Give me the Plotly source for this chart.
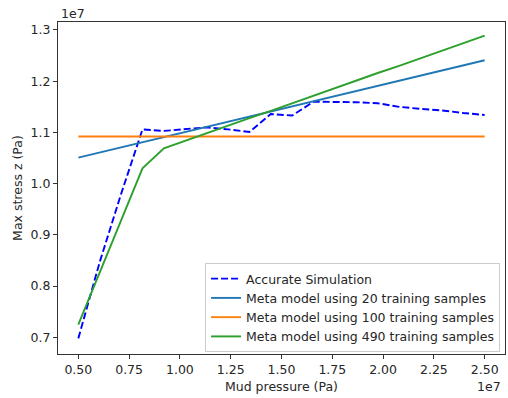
import plotly.graph_objects as go

# x grid: mud pressure (Pa), 20 samples from 5e6 to 2.5e7
mud_pressure = [5.000e6, 6.053e6, 7.105e6, 8.158e6, 9.211e6, 10.263e6, 11.316e6,
                12.368e6, 13.421e6, 14.474e6, 15.526e6, 16.579e6, 17.632e6,
                18.684e6, 19.737e6, 20.789e6, 21.842e6, 22.895e6, 23.947e6, 25.000e6]

accurate = [0.698e7, 0.847e7, 0.980e7, 1.106e7, 1.103e7, 1.107e7, 1.110e7,
            1.106e7, 1.101e7, 1.136e7, 1.133e7, 1.160e7, 1.160e7, 1.159e7,
            1.157e7, 1.150e7, 1.146e7, 1.143e7, 1.138e7, 1.134e7]

meta_20 = [1.051e7, 1.061e7, 1.071e7, 1.081e7, 1.091e7, 1.101e7, 1.111e7,
           1.121e7, 1.131e7, 1.141e7, 1.151e7, 1.161e7, 1.171e7, 1.181e7,
           1.191e7, 1.201e7, 1.211e7, 1.221e7, 1.231e7, 1.241e7]

meta_100 = [1.092e7] * 20

meta_490 = [0.725e7, 0.827e7, 0.929e7, 1.030e7, 1.069e7, 1.084e7, 1.099e7,
            1.113e7, 1.128e7, 1.142e7, 1.157e7, 1.172e7, 1.186e7, 1.201e7,
            1.216e7, 1.230e7, 1.245e7, 1.260e7, 1.274e7, 1.289e7]

labels = ["Accurate Simulation",
          "Meta model using 20 training samples",
          "Meta model using 100 training samples",
          "Meta model using 490 training samples"]

x_ticks = [0.50, 0.75, 1.00, 1.25, 1.50, 1.75, 2.00, 2.25, 2.50]
y_ticks = [0.7, 0.8, 0.9, 1.0, 1.1, 1.2, 1.3]

SCALE = 1e7
xs = [v / SCALE for v in mud_pressure]

FONT = "DejaVu Sans"
TXT = dict(family=FONT, size=12.5, color="#262626")
LW = 1.9
fig = go.Figure()
fig.add_trace(go.Scatter(x=xs, y=[v / SCALE for v in accurate], mode="lines",
                         name=labels[0], line=dict(color="#0000ff", width=LW, dash="7px,3px")))
fig.add_trace(go.Scatter(x=xs, y=[v / SCALE for v in meta_20], mode="lines",
                         name=labels[1], line=dict(color="#1f77b4", width=LW)))
fig.add_trace(go.Scatter(x=xs, y=[v / SCALE for v in meta_100], mode="lines",
                         name=labels[2], line=dict(color="#ff7f0e", width=LW)))
fig.add_trace(go.Scatter(x=xs, y=[v / SCALE for v in meta_490], mode="lines",
                         name=labels[3], line=dict(color="#2ca02c", width=LW)))

axis_common = dict(showgrid=False, zeroline=False, showline=True, mirror=True,
                   linecolor="#333333", linewidth=1.1, ticks="outside", ticklen=4,
                   tickcolor="#333333", tickfont=TXT, automargin=False)

fig.update_layout(
    width=508, height=398,
    margin=dict(l=58, r=3, t=22, b=44, autoexpand=False),
    plot_bgcolor="white", paper_bgcolor="white",
    font=TXT,
    xaxis=dict(range=[0.4, 2.6], tickvals=x_ticks,
               ticktext=[f"{t:.2f}" for t in x_ticks], **axis_common),
    yaxis=dict(range=[0.6675, 1.3156], tickvals=y_ticks,
               ticktext=[f"{t:.1f}" for t in y_ticks], **axis_common),
    showlegend=True,
    legend=dict(x=0.329, y=0.274, xanchor="left", yanchor="top",
                bgcolor="rgba(255,255,255,0.85)", bordercolor="#cccccc", borderwidth=1,
                font=TXT, tracegroupgap=0, itemwidth=30),
    annotations=[
        dict(text="Mud pressure (Pa)", xref="paper", yref="paper", x=0.5, y=-0.097,
             yanchor="middle", xanchor="center", showarrow=False, font=TXT),
        dict(text="Max stress z (Pa)", xref="paper", yref="paper", x=-0.092, y=0.5,
             textangle=-90, xanchor="center", yanchor="middle", showarrow=False, font=TXT),
        dict(text="1e7", xref="paper", yref="paper", x=0.0, y=1.0, yshift=9,
             xanchor="left", yanchor="middle", xshift=1, showarrow=False, font=TXT),
        dict(text="1e7", xref="paper", yref="paper", x=1.0, y=-0.097,
             xanchor="right", yanchor="middle", xshift=-2, showarrow=False, font=TXT),
    ],
)

fig.write_html("out.html", config={"displayModeBar": False},
               post_script="document.body.style.margin='0';")
